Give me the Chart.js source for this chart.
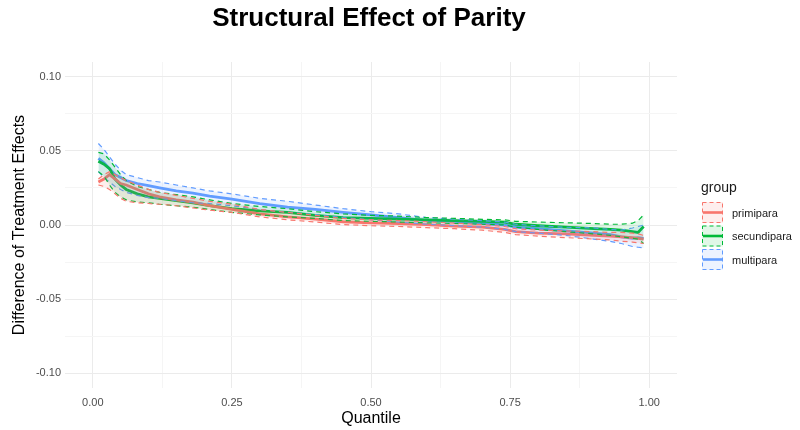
<!DOCTYPE html>
<html>
<head>
<meta charset="utf-8">
<script src="https://cdn.jsdelivr.net/npm/chart.js@4.4.1/dist/chart.umd.min.js"></script>
<style>
    html, body { margin: 0; padding: 0; background: #fff; }
</style>
</head>
<body>
<canvas id="chart-canvas" width="800" height="430"></canvas>
<script>
//////////////////////////////////////////////////
/////       Data    //////////
//////////////////////////////////////////////////

var quantiles = [0.01, 0.02, 0.03, 0.04, 0.05, 0.06, 0.08, 0.10, 0.12, 0.15, 0.18, 0.21, 0.25, 0.30, 0.35, 0.40,
    0.45, 0.50, 0.55, 0.60, 0.65, 0.70, 0.74, 0.76, 0.80, 0.85, 0.90, 0.93, 0.95, 0.97, 0.98, 0.99];

var groups = ["primipara", "secundipara", "multipara"];
var groupColors = ["248,118,109", "0,186,56", "97,156,255"];

var primiparaEst = [0.029, 0.031, 0.034, 0.031, 0.028, 0.027, 0.024, 0.021, 0.019, 0.017, 0.0155, 0.013, 0.0105, 0.0075, 0.0055, 0.004,
    0.0022, 0.0015, 0.001, 0.0003, -0.0008, -0.0015, -0.003, -0.0045, -0.0055, -0.006, -0.007, -0.0075, -0.008, -0.0085, -0.009, -0.0095];
var primiparaUpper = [0.031, 0.034, 0.036, 0.034, 0.032, 0.030, 0.027, 0.024, 0.022, 0.020, 0.018, 0.016, 0.014, 0.0105, 0.0085, 0.0065,
    0.0045, 0.0035, 0.003, 0.0022, 0.0012, 0.0003, -0.001, -0.0025, -0.0035, -0.004, -0.0045, -0.005, -0.005, -0.0055, -0.006, -0.007];
var primiparaLower = [0.027, 0.026, 0.024, 0.021, 0.018, 0.016, 0.015, 0.0145, 0.014, 0.013, 0.0115, 0.010, 0.0085, 0.0055, 0.0035, 0.002,
    0.0003, -0.0005, -0.001, -0.0018, -0.0025, -0.0035, -0.005, -0.0065, -0.0075, -0.0085, -0.0095, -0.010, -0.011, -0.0115, -0.012, -0.0125];

var secundiparaEst = [0.043, 0.041, 0.038, 0.031, 0.027, 0.024, 0.021, 0.019, 0.018, 0.0165, 0.015, 0.013, 0.011, 0.0095, 0.0085, 0.0065,
    0.005, 0.0045, 0.004, 0.0035, 0.003, 0.0025, 0.002, 0.0005, -0.0005, -0.0015, -0.0025, -0.003, -0.0035, -0.0045, -0.005, -0.001];
var secundiparaUpper = [0.049, 0.048, 0.044, 0.039, 0.034, 0.030, 0.026, 0.024, 0.022, 0.0205, 0.019, 0.017, 0.0145, 0.0125, 0.011, 0.009,
    0.0075, 0.0065, 0.006, 0.005, 0.0045, 0.0038, 0.0035, 0.0025, 0.002, 0.0015, 0.001, 0.0005, 0.0005, 0.0012, 0.003, 0.0068];
var secundiparaLower = [0.036, 0.033, 0.027, 0.022, 0.019, 0.017, 0.0155, 0.015, 0.014, 0.013, 0.012, 0.0105, 0.0085, 0.0068, 0.0055, 0.0045,
    0.003, 0.0025, 0.002, 0.0015, 0.001, 0.0005, 0.0, -0.0015, -0.003, -0.0045, -0.006, -0.007, -0.008, -0.009, -0.0095, -0.0125];

var multiparaEst = [0.045, 0.042, 0.038, 0.034, 0.032, 0.030, 0.028, 0.0265, 0.025, 0.023, 0.0215, 0.0195, 0.0175, 0.0145, 0.012, 0.0105,
    0.0085, 0.0068, 0.005, 0.003, 0.0025, 0.001, 0.0, -0.0015, -0.0025, -0.004, -0.0055, -0.0065, -0.008, -0.009, -0.0085, -0.009];
var multiparaUpper = [0.055, 0.051, 0.046, 0.041, 0.037, 0.034, 0.032, 0.030, 0.029, 0.027, 0.025, 0.023, 0.021, 0.018, 0.016, 0.0135,
    0.011, 0.009, 0.0075, 0.005, 0.004, 0.003, 0.002, 0.0005, -0.0005, -0.0015, -0.002, -0.003, -0.0035, -0.002, -0.001, 0.0];
var multiparaLower = [0.036, 0.032, 0.029, 0.026, 0.024, 0.022, 0.020, 0.0185, 0.018, 0.0165, 0.015, 0.0145, 0.013, 0.0105, 0.0085, 0.007,
    0.005, 0.0035, 0.002, 0.0005, -0.0005, -0.0015, -0.003, -0.0045, -0.0055, -0.007, -0.0095, -0.011, -0.0125, -0.0145, -0.015, -0.0155];

var yTicks = [-0.10, -0.05, 0.00, 0.05, 0.10];
var xTicks = [0.00, 0.25, 0.50, 0.75, 1.00];

//////////////////////////////////////////////////
/////       Build datasets              //////////
//////////////////////////////////////////////////

var series = [
    [primiparaUpper, primiparaLower, primiparaEst],
    [secundiparaUpper, secundiparaLower, secundiparaEst],
    [multiparaUpper, multiparaLower, multiparaEst]
];

function toPoints(arr) {
    return arr.map(function (v, i) { return { x: quantiles[i], y: v }; });
}

var datasets = [];
series.forEach(function (s, g) {
    var c = groupColors[g];
    datasets.push({
        label: groups[g] + " upper",
        data: toPoints(s[0]),
        borderColor: "rgba(" + c + ",1)",
        borderWidth: 1.2,
        borderDash: [5, 4],
        backgroundColor: "rgba(" + c + ",0.12)",
        fill: "+1",
        pointRadius: 0,
        tension: 0
    });
    datasets.push({
        label: groups[g] + " lower",
        data: toPoints(s[1]),
        borderColor: "rgba(" + c + ",1)",
        borderWidth: 1.2,
        borderDash: [5, 4],
        fill: false,
        pointRadius: 0,
        tension: 0
    });
});
series.forEach(function (s, g) {
    datasets.push({
        label: groups[g],
        data: toPoints(s[2]),
        borderColor: "rgba(" + groupColors[g] + ",1)",
        borderWidth: 2.8,
        fill: false,
        pointRadius: 0,
        tension: 0
    });
});

function isMajor(v, list) {
    return list.some(function (t) { return Math.abs(t - v) < 1e-9; });
}

//////////////////////////////////////////////////
/////       Title + ggplot-like legend  //////////
//////////////////////////////////////////////////

var ggDecor = {
    id: 'ggDecor',
    afterDraw: function (chart) {
        var ctx = chart.ctx;
        var area = chart.chartArea;
        ctx.save();
        ctx.fillStyle = "#000";
        ctx.font = "bold 26px 'Liberation Sans', Arial, sans-serif";
        ctx.textAlign = "center";
        ctx.textBaseline = "middle";
        ctx.fillText("Structural Effect of Parity", (area.left + area.right) / 2 - 2, 19);

        ctx.textAlign = "left";
        ctx.font = "14px 'Liberation Sans', Arial, sans-serif";
        ctx.fillStyle = "#1a1a1a";
        ctx.fillText("group", 701, 188);

        groups.forEach(function (name, i) {
            var c = groupColors[i];
            var x = 702, y = 202 + i * 23.5, w = 21, h = 21;
            ctx.fillStyle = "rgba(" + c + ",0.12)";
            ctx.fillRect(x, y, w, h);
            ctx.setLineDash([4, 3]);
            ctx.lineWidth = 1;
            ctx.strokeStyle = "rgba(" + c + ",1)";
            ctx.strokeRect(x + 0.5, y + 0.5, w - 1, h - 1);
            ctx.setLineDash([]);
            ctx.lineWidth = 2.6;
            ctx.beginPath();
            ctx.moveTo(x + 1, y + h / 2);
            ctx.lineTo(x + w - 1, y + h / 2);
            ctx.stroke();
            ctx.fillStyle = "#1a1a1a";
            ctx.font = "11px 'Liberation Sans', Arial, sans-serif";
            ctx.fillText(name, 732, y + h / 2 + 1);
        });
        ctx.restore();
    }
};

//////////////////////////////////////////////////
/////       For Loading chart.js    //////////////
//////////////////////////////////////////////////

var tickFont = { family: "'Liberation Sans', Arial, sans-serif", size: 11 };
var titleFont = { family: "'Liberation Sans', Arial, sans-serif", size: 16 };

var ctx = document.getElementById('chart-canvas').getContext('2d');
var myChart = new Chart(ctx, {
    type: 'line',
    data: { datasets: datasets },
    plugins: [ggDecor],
    options: {
        responsive: false,
        animation: false,
        layout: { padding: { top: 62, right: 123, left: 0, bottom: 0 } },
        plugins: {
            legend: { display: false },
            title: { display: false },
            tooltip: { enabled: false }
        },
        scales: {
            x: {
                type: 'linear',
                min: -0.05,
                max: 1.05,
                border: { display: false },
                grid: {
                    drawTicks: false,
                    lineWidth: 1,
                    color: function (c) { return isMajor(c.tick.value, xTicks) ? "#EBEBEB" : "#F5F5F5"; }
                },
                ticks: {
                    stepSize: 0.125,
                    includeBounds: false,
                    autoSkip: false,
                    maxRotation: 0,
                    padding: 8,
                    color: "#4D4D4D",
                    font: tickFont,
                    callback: function (v) { return isMajor(v, xTicks) ? v.toFixed(2) : ""; }
                },
                title: {
                    display: true,
                    text: "Quantile",
                    color: "#000",
                    font: titleFont,
                    padding: { top: 0, bottom: 2 }
                },
                afterFit: function (scale) { scale.height = 42; }
            },
            y: {
                type: 'linear',
                min: -0.11,
                max: 0.11,
                border: { display: false },
                grid: {
                    drawTicks: false,
                    lineWidth: 1,
                    color: function (c) { return isMajor(c.tick.value, yTicks) ? "#EBEBEB" : "#F5F5F5"; }
                },
                ticks: {
                    stepSize: 0.025,
                    includeBounds: false,
                    autoSkip: false,
                    padding: 4,
                    color: "#4D4D4D",
                    font: tickFont,
                    callback: function (v) { return isMajor(v, yTicks) ? v.toFixed(2) : ""; }
                },
                title: {
                    display: true,
                    text: "Difference of Treatment Effects",
                    color: "#000",
                    font: titleFont,
                    padding: { top: 10, bottom: 0 }
                },
                afterFit: function (scale) { scale.width = 65; }
            }
        }
    }
});
</script>
</body>
</html>
